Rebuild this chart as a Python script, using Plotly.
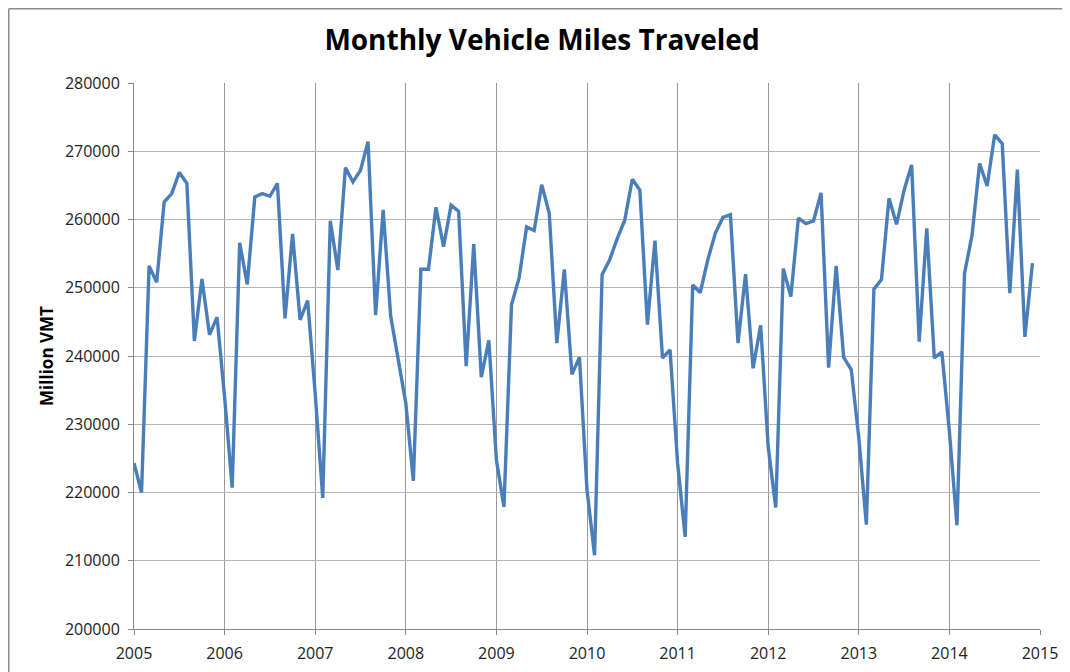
import plotly.graph_objects as go

years = list(range(2005, 2015))
months = list(range(1, 13))

vmt_2005 = [224300, 220000, 253200, 250800, 262600, 263800, 266900, 265300, 242200, 251300, 243100, 245700]
vmt_2006 = [234000, 220700, 256600, 250500, 263300, 263800, 263400, 265300, 245500, 257900, 245300, 248100]
vmt_2007 = [234500, 219200, 259800, 252600, 267600, 265500, 267200, 271400, 246000, 261400, 245800, 239700]
vmt_2008 = [233100, 221700, 252700, 252700, 261800, 256000, 262100, 261200, 238500, 256400, 236900, 242300]
vmt_2009 = [224800, 217900, 247500, 251400, 258900, 258400, 265100, 260900, 241900, 252700, 237300, 239800]
vmt_2010 = [220400, 210800, 251900, 254100, 257200, 259900, 265900, 264300, 244600, 256900, 239700, 240900]
vmt_2011 = [224300, 213500, 250400, 249300, 254100, 258000, 260300, 260700, 241900, 252000, 238200, 244500]
vmt_2012 = [226700, 217800, 252800, 248700, 260200, 259400, 259800, 263900, 238300, 253200, 239800, 238000]
vmt_2013 = [228000, 215300, 249800, 251200, 263100, 259300, 264300, 268000, 242100, 258700, 239700, 240600]
vmt_2014 = [228900, 215200, 252100, 257700, 268200, 264900, 272400, 271100, 249200, 267300, 242800, 253600]

series = [vmt_2005, vmt_2006, vmt_2007, vmt_2008, vmt_2009,
          vmt_2010, vmt_2011, vmt_2012, vmt_2013, vmt_2014]

x_tick_labels = [str(y) for y in range(2005, 2016)]
y_tick_values = list(range(200000, 280001, 10000))

x_vals = []
y_vals = []
for yr, vals in zip(years, series):
    for m, v in zip(months, vals):
        x_vals.append(yr + (m - 1) / 12)
        y_vals.append(v)

fig = go.Figure()
fig.add_trace(go.Scatter(
    x=x_vals, y=y_vals, mode="lines",
    line=dict(color="#4a7ebb", width=3.4),
    hoverinfo="x+y", showlegend=False,
))

W, H = 1070, 672
ml, mr, mt, mb = 126, 38, 75, 51
pw = W - ml - mr
ph = H - mt - mb

fig.update_layout(
    width=W, height=H,
    margin=dict(l=ml, r=mr, t=mt, b=mb),
    paper_bgcolor="white", plot_bgcolor="white",
    font=dict(family="Open Sans, Liberation Sans, sans-serif", color="#222", size=16),
    title=dict(text="<b>Monthly Vehicle Miles Traveled</b>",
               x=(534) / W, xanchor="center", y=1 - 32 / H, yanchor="middle",
               font=dict(size=28, color="#000", family="Open Sans, sans-serif")),
    xaxis=dict(
        range=[2005, 2015], tickmode="array",
        tickvals=list(range(2005, 2016)), ticktext=x_tick_labels,
        showgrid=True, gridcolor="#9a9a9a", gridwidth=1,
        showline=True, linecolor="#868686", linewidth=1,
        ticks="outside", ticklen=5, tickcolor="#868686",
        ticklabelstandoff=5,
        zeroline=False, tickfont=dict(size=16, color="#222"),
        mirror=False,
    ),
    yaxis=dict(
        range=[200000, 280000], tickmode="array",
        tickvals=y_tick_values, ticktext=[str(v) for v in y_tick_values],
        showgrid=True, gridcolor="#b4b4b4", gridwidth=1,
        showline=True, linecolor="#868686", linewidth=1,
        ticks="outside", ticklen=5, tickcolor="#868686",
        ticklabelstandoff=5,
        zeroline=False, tickfont=dict(size=16, color="#222"),
        title=dict(text="<b>Million VMT</b>", standoff=6,
                   font=dict(size=17, color="#000")),
    ),
)

# chart border (left and top visible edges)
xl = (0.75 - ml) / pw
yt = 1 + (mt - 0.75) / ph
yb = 1 + (mt - (H + 5)) / ph
xr = 1 + (W + 5 - ml - pw) / pw
fig.add_shape(type="line", xref="paper", yref="paper", x0=xl, x1=xl, y0=yb, y1=yt,
              line=dict(color="#8c8c8c", width=1.5))
fig.add_shape(type="line", xref="paper", yref="paper", x0=xl, x1=xr, y0=yt, y1=yt,
              line=dict(color="#8c8c8c", width=1.5))

fig.write_html("out.html")
